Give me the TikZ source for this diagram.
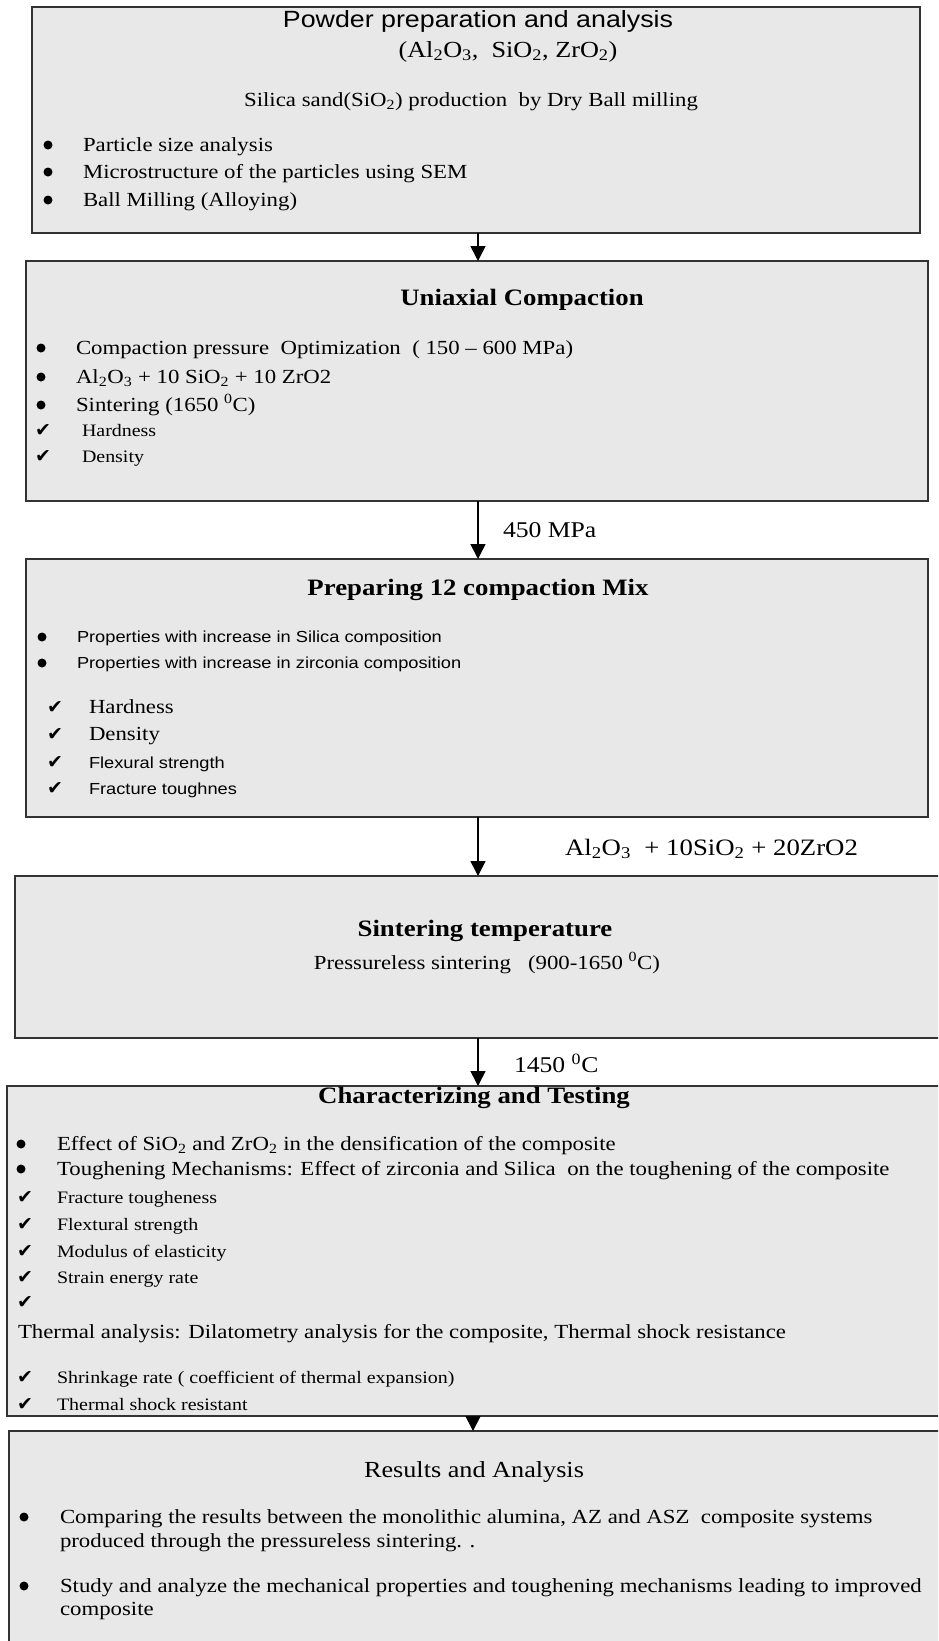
\documentclass[tikz,border=0pt]{standalone}
\usepackage{fontspec}
\usepackage{graphicx}
\setmainfont{Liberation Serif}
\newfontfamily\arialf{Liberation Sans}
\newfontfamily\djv{DejaVu Sans}
\usetikzlibrary{arrows.meta}
\newcommand{\sx}[1]{\scalebox{1.14}[1]{#1}}
\newcommand{\sub}[1]{\textsubscript{#1}}
\newcommand{\dg}{\textsuperscript{0}}
\tikzset{
  box/.style={rectangle, draw=black!80, line width=1.2pt, fill=black!9, inner sep=0pt, outer sep=0pt},
  tl/.style={inner sep=0pt, outer sep=0pt, anchor=base west, font=\fontsize{20}{24}\selectfont},
  tc/.style={inner sep=0pt, outer sep=0pt, anchor=base, font=\fontsize{20}{24}\selectfont},
  ttl/.style={tc, font=\fontsize{23.5}{28}\selectfont\bfseries},
  sm/.style={tl, font=\fontsize{17.5}{21}\selectfont},
  ar/.style={tl, font=\arialf\fontsize{16}{19}\selectfont},
  lbl/.style={tl, font=\fontsize{22.5}{27}\selectfont},
  dot/.style={circle, fill=black, inner sep=0pt, minimum size=9pt},
  chk/.style={inner sep=0pt, outer sep=0pt, anchor=base west, font=\djv\fontsize{19}{22}\selectfont},
  arr/.style={line width=1.6pt, -{Triangle[length=15pt,width=15pt]}}
}
\begin{document}
\begin{tikzpicture}[x=1pt, y=-1pt]
\useasboundingbox (0,0) rectangle (938,1641);
\clip (0,0) rectangle (938,1641);
\fill[white] (0,0) rectangle (938,1641);

% ---------- Box 1
\node[box, minimum width=888pt, minimum height=226pt] (b1) at (476,120) {};
\node[tc, font=\arialf\fontsize{23.5}{28}\selectfont] (t1) at (478,27) {\sx{Powder preparation and analysis}};
\node[tc, font=\fontsize{23}{27}\selectfont] (t1b) at (508,57) {\sx{(Al\sub{2}O\sub{3},\ \ SiO\sub{2}, ZrO\sub{2})}};
\node[tc] (t1c) at (471,106) {\sx{Silica sand(SiO\sub{2}) production\ \ by Dry Ball milling}};
\node[dot] (d11) at (48,145) {};
\node[dot] (d12) at (48,172) {};
\node[dot] (d13) at (48,200) {};
\node[tl] (i11) at (83,151) {\sx{Particle size analysis}};
\node[tl] (i12) at (83,178) {\sx{Microstructure of the particles using SEM}};
\node[tl] (i13) at (83,206) {\sx{Ball Milling (Alloying)}};

% ---------- Box 2
\node[box, minimum width=902pt, minimum height=240pt] (b2) at (477,381) {};
\node[ttl] (t2) at (522,305) {\sx{Uniaxial Compaction}};
\node[dot] (d21) at (41,348) {};
\node[dot] (d22) at (41,377) {};
\node[dot] (d23) at (41,405) {};
\node[tl] (i21) at (76,354) {\sx{Compaction pressure\ \ Optimization\ \ ( 150 -- 600 MPa)}};
\node[tl] (i22) at (76,383) {\sx{Al\sub{2}O\sub{3} + 10 SiO\sub{2} + 10 ZrO2}};
\node[tl] (i23) at (76,411) {\sx{Sintering (1650 \dg C)}};
\node[chk] (c21) at (35,436) {✔};
\node[chk] (c22) at (35,462) {✔};
\node[sm] (i24) at (82,436) {\sx{Hardness}};
\node[sm] (i25) at (82,462) {\sx{Density}};

% ---------- Box 3
\node[box, minimum width=902pt, minimum height=258pt] (b3) at (477,688) {};
\node[ttl] (t3) at (478,595) {\sx{Preparing 12 compaction Mix}};
\node[dot] (d31) at (42,637) {};
\node[dot] (d32) at (42,663) {};
\node[ar] (i31) at (77,642) {\sx{Properties with increase in Silica composition}};
\node[ar] (i32) at (77,668) {\sx{Properties with increase in zirconia composition}};
\node[chk] (c31) at (47,713) {✔};
\node[chk] (c32) at (47,740) {✔};
\node[chk] (c33) at (47,768) {✔};
\node[chk] (c34) at (47,794) {✔};
\node[tl] (i33) at (89,713) {\sx{Hardness}};
\node[tl] (i34) at (89,740) {\sx{Density}};
\node[ar] (i35) at (89,768) {\sx{Flexural strength}};
\node[ar] (i36) at (89,794) {\sx{Fracture toughnes}};

% ---------- Box 4
\node[box, minimum width=932pt, minimum height=162pt] (b4) at (481,957) {};
\node[ttl] (t4) at (485,936) {\sx{Sintering temperature}};
\node[tc] (i41) at (487,969) {\sx{Pressureless sintering\ \ \ (900-1650 \dg C)}};

% ---------- Box 5
\node[box, minimum width=942pt, minimum height=330pt] (b5) at (478,1251) {};
\node[ttl] (t5) at (474,1103) {\sx{Characterizing and Testing}};
\node[dot] (d51) at (21,1144) {};
\node[dot] (d52) at (21,1169) {};
\node[tl] (i51) at (57,1150) {\sx{Effect of SiO\sub{2} and ZrO\sub{2} in the densification of the composite}};
\node[tl] (i52) at (57,1175) {\sx{Toughening Mechanisms: Effect of zirconia and Silica\ \ on the toughening of the composite}};
\node[chk] (c51) at (17,1203) {✔};
\node[chk] (c52) at (17,1230) {✔};
\node[chk] (c53) at (17,1257) {✔};
\node[chk] (c54) at (17,1283) {✔};
\node[chk] (c55) at (17,1308) {✔};
\node[sm] (i53) at (57,1203) {\sx{Fracture tougheness}};
\node[sm] (i54) at (57,1230) {\sx{Flextural strength}};
\node[sm] (i55) at (57,1257) {\sx{Modulus of elasticity}};
\node[sm] (i56) at (57,1283) {\sx{Strain energy rate}};
\node[tl] (i57) at (18,1338) {\sx{Thermal analysis: Dilatometry analysis for the composite, Thermal shock resistance}};
\node[chk] (c56) at (17,1383) {✔};
\node[chk] (c57) at (17,1410) {✔};
\node[sm] (i58) at (57,1383) {\sx{Shrinkage rate ( coefficient of thermal expansion)}};
\node[sm] (i59) at (57,1410) {\sx{Thermal shock resistant}};

% ---------- Box 6
\node[box, minimum width=944pt, minimum height=230pt] (b6) at (481,1546) {};
\node[tc, font=\fontsize{23}{27}\selectfont] (t6) at (474,1477) {\sx{Results and Analysis}};
\node[dot] (d61) at (24,1517) {};
\node[dot] (d62) at (24,1586) {};
\node[tl] (i61) at (60,1523) {\sx{Comparing the results between the monolithic alumina, AZ and ASZ\ \ composite systems}};
\node[tl] (i62) at (60,1547) {\sx{produced through the pressureless sintering. .}};
\node[tl] (i63) at (60,1592) {\sx{Study and analyze the mechanical properties and toughening mechanisms leading to improved}};
\node[tl] (i64) at (60,1615) {\sx{composite}};

% ---------- connectors
\coordinate (ax) at (478,0);
\coordinate (ay) at (473,0);
\draw[arr] (b1.south -| ax) -- (b2.north -| ax);
\draw[arr] (b2.south -| ax) -- (b3.north -| ax);
\draw[arr] (b3.south -| ax) -- (b4.north -| ax);
\draw[arr] (b4.south -| ax) -- (b5.north -| ax);
\draw[arr] (b5.south -| ay) -- (b6.north -| ay);

\node[lbl] (l1) at (503,537) {\sx{450 MPa}};
\node[lbl, font=\fontsize{23.5}{28}\selectfont] (l2) at (565,855) {\sx{Al\sub{2}O\sub{3}\ \ + 10SiO\sub{2} + 20ZrO2}};
\node[lbl] (l3) at (514,1072) {\sx{1450 \dg C}};
\end{tikzpicture}
\end{document}
